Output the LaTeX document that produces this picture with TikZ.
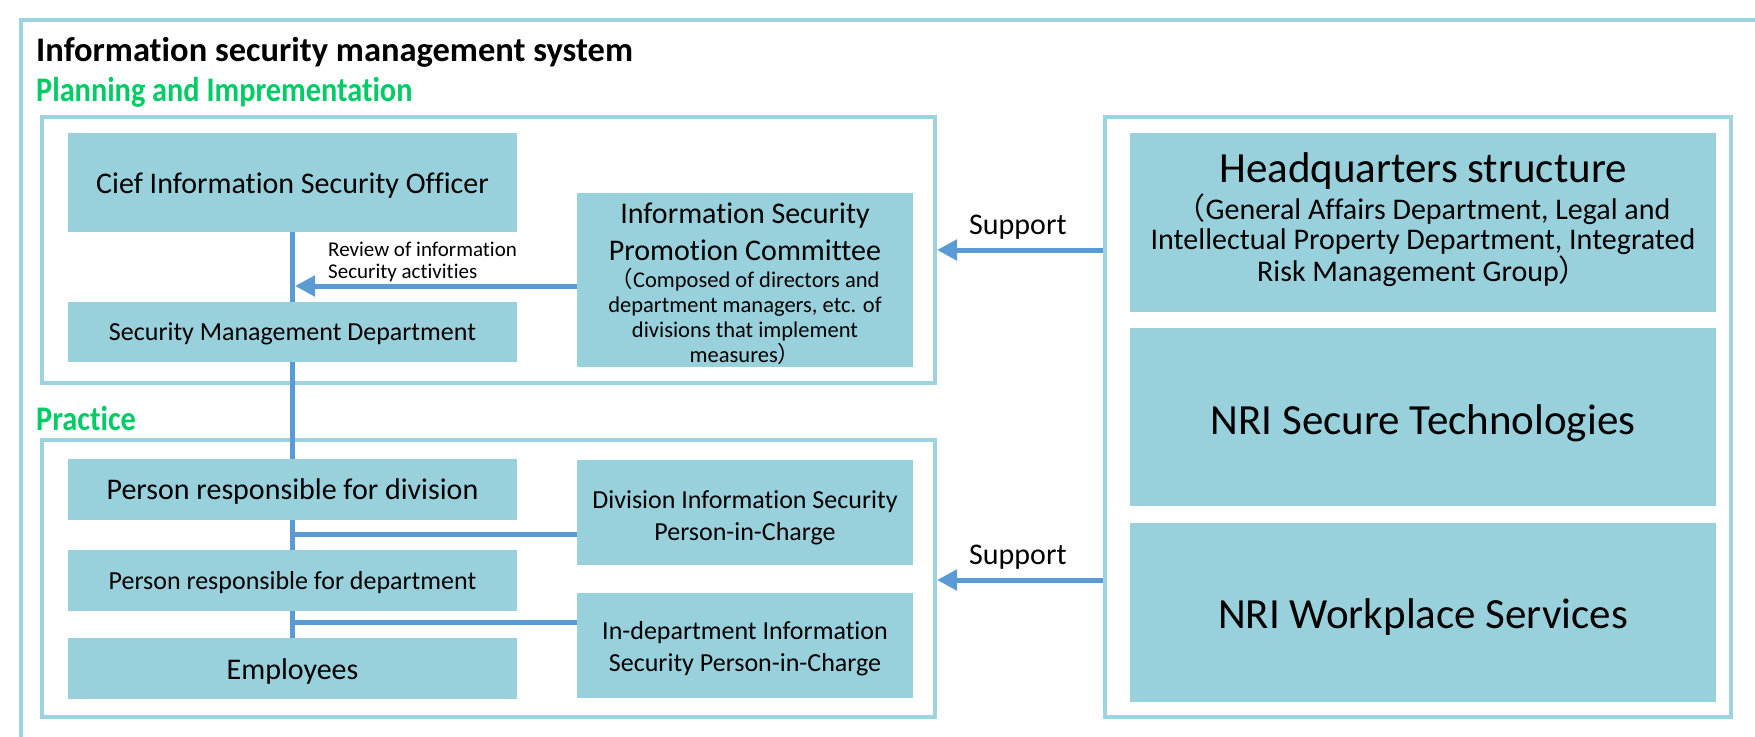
\documentclass[tikz,border=0pt]{standalone}
\usepackage{fontspec}
\setmainfont{Carlito}[Ligatures=NoCommon]
\newfontfamily\cjkfont{Noto Sans CJK JP}
\usetikzlibrary{arrows.meta}
\definecolor{boxc}{RGB}{152,208,220}
\definecolor{framec}{RGB}{155,211,223}
\definecolor{linec}{RGB}{91,155,213}
\definecolor{greenc}{RGB}{0,204,102}
\newcommand{\fsz}[2]{\fontsize{#1}{#2}\selectfont}
\newcommand{\lpar}{{\cjkfont （}}
\newcommand{\rpar}{{\cjkfont ）}}
% lower a text by #1 without changing its box
\newcommand{\lowr}[2]{\raisebox{-#1}[\height][\depth]{#2}}
% centred block of lines, lowered by #1, width #2
\newcommand{\blk}[3]{\raisebox{-#1}[\height][\depth]{\parbox{#2}{\centering #3}}}
\begin{document}
\begin{tikzpicture}[x=1pt,y=-1pt,
  frame/.style={draw=framec, line width=4pt, inner sep=0pt, fill=white},
  box/.style={fill=boxc, inner sep=0pt, align=center},
  conn/.style={draw=linec, line width=5pt},
  tip/.style={-{Triangle[length=20pt,width=20pt]}},
  lbl/.style={inner sep=0pt, anchor=base west}
]
\useasboundingbox (0,0) rectangle (1755,736);
\clip (0,0) rectangle (1755,736);
\fill[white] (0,0) rectangle (1755,736);
% outer frame (runs past the right and bottom edges)
\draw[draw=framec, line width=4pt] (21,20) rectangle (1800,800);
% titles
\node[lbl, font=\bfseries\fsz{34.5}{40}] (title) at (36,61) {Information security management system};
\node[lbl, font=\bfseries\fsz{30}{36}, text=greenc] (plan) at (36,101) {\scalebox{1.01}[1.15]{Planning and Imprementation}};
\node[lbl, font=\bfseries\fsz{30}{36}, text=greenc] (prac) at (36,430) {\scalebox{1.01}[1.15]{Practice}};
% frames
\node[frame, minimum width=893pt, minimum height=266pt] (planf) at (488.5,250) {};
\node[frame, minimum width=893pt, minimum height=277pt] (practf) at (488.5,578.5) {};
\node[frame, minimum width=626pt, minimum height=600pt] (rightf) at (1418,417) {};
% planning boxes
\node[box, minimum width=449pt, minimum height=99pt, font=\fsz{30}{36}] (ciso) at (292.5,182.5) {\lowr{3.4pt}{Cief Information Security Officer}};
\node[box, minimum width=449pt, minimum height=60pt, font=\fsz{26}{32}] (smd) at (292.5,332) {\lowr{2.2pt}{Security Management Department}};
\node[box, minimum width=336pt, minimum height=174pt] (ispc) at (745,280)
  {\blk{4pt}{336pt}{\fsz{30}{37}Information Security\\Promotion Committee\par\vspace{2.5pt}
   \fsz{22.5}{25}\lpar Composed of directors and\\department managers, etc. of\\divisions that implement\\measures\rpar}};
% practice boxes
\node[box, minimum width=449pt, minimum height=61pt, font=\fsz{30}{36}] (pdiv) at (292.5,489.5) {\lowr{2.2pt}{Person responsible for division}};
\node[box, minimum width=449pt, minimum height=61pt, font=\fsz{26}{32}] (pdept) at (292.5,580.5) {\lowr{2.2pt}{Person responsible for department}};
\node[box, minimum width=449pt, minimum height=61pt, font=\fsz{30}{36}] (emp) at (292.5,668.5) {\lowr{3.4pt}{Employees}};
\node[box, minimum width=336pt, minimum height=105pt] (divis) at (745,512.5)
  {\blk{5.6pt}{336pt}{\fsz{26}{32}Division Information Security\\Person-in-Charge}};
\node[box, minimum width=336pt, minimum height=105pt] (indept) at (745,645.5)
  {\blk{3.4pt}{336pt}{\fsz{26}{32}In-department Information\\Security Person-in-Charge}};
% right boxes
\node[box, minimum width=586pt, minimum height=179pt] (hq) at (1423,222.5)
  {\blk{-2.8pt}{586pt}{\fsz{43}{48}Headquarters structure\par\vspace{3pt}
   \fsz{30}{30.5}\lpar General Affairs Department, Legal and\\Intellectual Property Department, Integrated\\Risk Management Group\rpar}};
\node[box, minimum width=586pt, minimum height=178pt, font=\fsz{43}{48}] (nrisec) at (1423,417) {\lowr{6pt}{NRI Secure Technologies}};
\node[box, minimum width=586pt, minimum height=179pt, font=\fsz{43}{48}] (nriws) at (1423,612.5) {\lowr{5pt}{NRI Workplace Services}};
% connectors
\draw[conn] (ciso.south) -- (smd.north);
\draw[conn] (smd.south) -- (pdiv.north);
\draw[conn] (pdiv.south) -- (pdept.north);
\draw[conn] (pdept.south) -- (emp.north);
\coordinate (rv) at (295,286);
\draw[conn, tip] (ispc.west |- rv) -- (rv);
\node[lbl, align=left, font=\fsz{21}{22}] (review) at (328,278) {Review of information\\Security activities};
\coordinate (j1) at (292.5,534);
\coordinate (j2) at (292.5,622);
\draw[conn] (j1) -- (divis.west |- j1);
\draw[conn] (j2) -- (indept.west |- j2);
\coordinate (s1) at (0,250);
\coordinate (s2) at (0,580);
\draw[conn, tip] (rightf.west |- s1) -- (planf.east |- s1);
\draw[conn, tip] (rightf.west |- s2) -- (practf.east |- s2);
\node[lbl, font=\fsz{30}{36}] (sup1) at (969,234) {Support};
\node[lbl, font=\fsz{30}{36}] (sup2) at (969,564) {Support};
\end{tikzpicture}
\end{document}
